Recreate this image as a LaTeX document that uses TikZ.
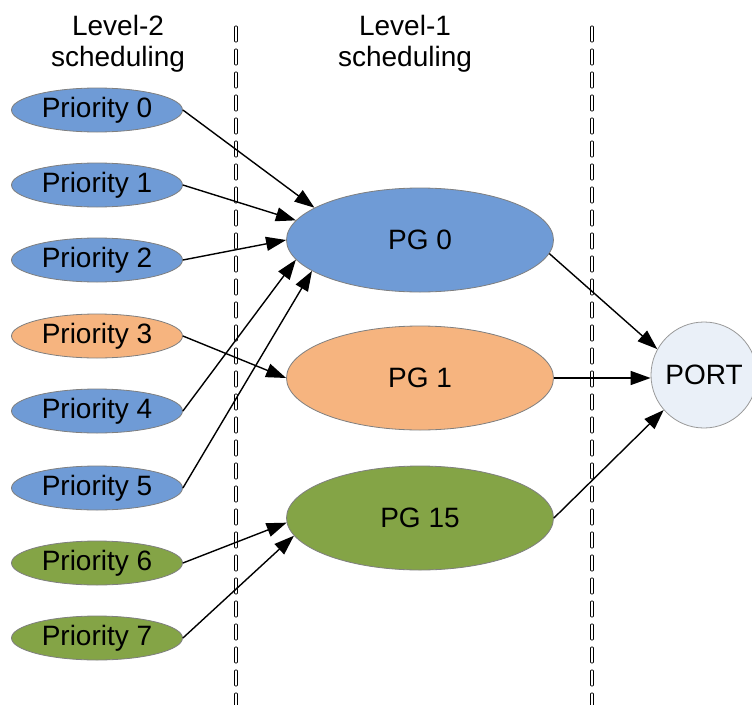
\documentclass[tikz,border=0pt]{standalone}
\usepackage{fontspec}
\setmainfont{Liberation Sans}
\usetikzlibrary{shapes.geometric,arrows.meta}
\definecolor{pblue}{HTML}{6F9BD6}
\definecolor{porange}{HTML}{F6B47F}
\definecolor{pgreen}{HTML}{84A446}
\definecolor{portfill}{HTML}{EAF0F8}
\definecolor{edgegray}{HTML}{7F7F7F}
\tikzset{
  prio/.style={ellipse, draw=edgegray, line width=0.8pt, minimum width=171pt, minimum height=44pt, inner sep=0pt, font=\fontsize{28}{30}\selectfont},
  pg/.style={ellipse, draw=edgegray, line width=0.8pt, minimum width=267pt, minimum height=104pt, inner sep=0pt, font=\fontsize{28}{30}\selectfont},
  portnode/.style={circle, draw=edgegray!80, fill=portfill, line width=0.8pt, minimum size=106pt, inner sep=0pt, font=\fontsize{28}{30}\selectfont},
  heading/.style={align=center, font=\fontsize{28}{31}\selectfont},
  conn/.style={line width=1.4pt, -{Triangle[length=20pt,width=14pt]}},
  dashbox/.style={draw=black, line width=0.7pt, rounded corners=0.8pt, fill=white}
}
\begin{document}
\begin{tikzpicture}[x=1pt,y=-1pt]
\useasboundingbox (0,0) rectangle (752,704);
% dashed separators
\foreach \yy in {26,49,...,700}{
  \draw[dashbox] (234.5,\yy) rectangle ++(3,16);
  \draw[dashbox] (590.5,\yy) rectangle ++(3,16);
}
% headings
\node[heading] (h2) at (118,44) {Level-2\\scheduling};
\node[heading] (h1) at (405,44) {Level-1\\scheduling};
% priority nodes
\node[prio, fill=pblue] (p0) at (97,110) {Priority 0};
\node[prio, fill=pblue] (p1) at (97,185) {Priority 1};
\node[prio, fill=pblue] (p2) at (97,260) {Priority 2};
\node[prio, fill=porange] (p3) at (97,336) {Priority 3};
\node[prio, fill=pblue] (p4) at (97,411) {Priority 4};
\node[prio, fill=pblue] (p5) at (97,488) {Priority 5};
\node[prio, fill=pgreen] (p6) at (97,563) {Priority 6};
\node[prio, fill=pgreen] (p7) at (97,638) {Priority 7};
% PG nodes
\node[pg, fill=pblue] (pg0) at (420,240) {PG 0};
\node[pg, fill=porange] (pg1) at (420,378) {PG 1};
\node[pg, fill=pgreen] (pg15) at (420,518) {PG 15};
% port
\node[portnode] (port) at (704,375) {PORT};
% connectors
\draw[conn] (p0.east) -- (pg0.163);
\draw[conn] (p1.east) -- (pg0.171);
\draw[conn] (p2.east) -- (pg0.180);
\draw[conn] (p4.east) -- (pg0.189);
\draw[conn] (p5.east) -- (pg0.196);
\draw[conn] (p3.east) -- (pg1.west);
\draw[conn] (p6.east) -- (pg15.182);
\draw[conn] (p7.east) -- (pg15.188);
\draw[conn] (pg0.-6) -- (port.151);
\draw[conn] (pg1.east) -- (pg1.east -| port.west);
\draw[conn] (pg15.east) -- (port.221);
\end{tikzpicture}
\end{document}
